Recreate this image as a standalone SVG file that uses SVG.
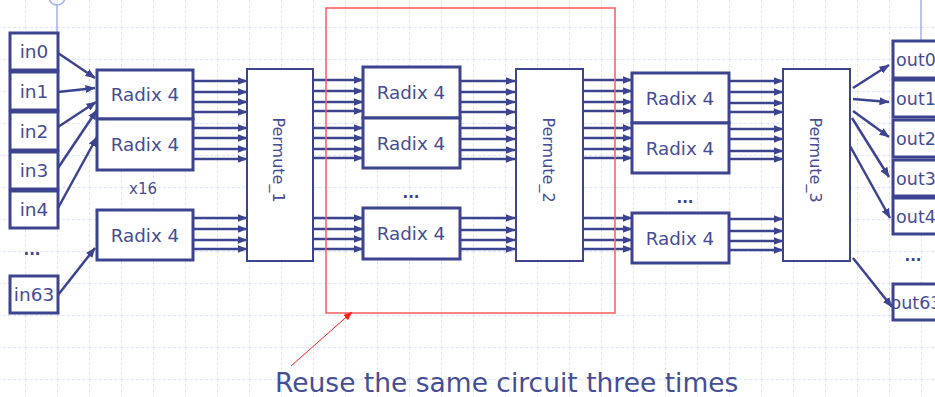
<svg xmlns="http://www.w3.org/2000/svg" width="935" height="397" viewBox="0 0 935 397">
<defs>
<marker id="ah" markerUnits="userSpaceOnUse" markerWidth="10" markerHeight="8" refX="9.5" refY="4" orient="auto">
<path d="M0,0 L10,4 L0,8 z" fill="#3c4490"/>
</marker>
<marker id="rah" markerUnits="userSpaceOnUse" markerWidth="9" markerHeight="7" refX="8.5" refY="3.5" orient="auto">
<path d="M0,0 L9,3.5 L0,7 z" fill="#ff2020"/>
</marker>
<pattern id="grid" patternUnits="userSpaceOnUse" x="25" y="27" width="32" height="32">
<path d="M0.5,0 V32 M0,0.5 H32" fill="none" stroke="#dde5fa" stroke-width="1" stroke-dasharray="3,2"/>
</pattern>
</defs>
<style>
.box{fill:#fff;stroke:#3c4490;stroke-width:3}
.perm{fill:#fff;stroke:#3c4490;stroke-width:2}
.t{font-family:"DejaVu Sans",Verdana,sans-serif;fill:#454d95;text-anchor:middle}
.lab{font-size:18.3px}
.io{font-size:18.5px}
.oo{font-size:17.5px}
.pt{font-size:16px}
.dots{font-family:"DejaVu Sans",sans-serif;font-size:15px;font-weight:bold;fill:#3c4490;text-anchor:middle}
.c{stroke:#3c4490;stroke-width:2.5;fill:none;marker-end:url(#ah)}
</style>
<rect width="935" height="397" fill="#fff"/>
<rect width="935" height="397" fill="url(#grid)"/>
<g id="guides" stroke="#9fb2f2" stroke-width="1.5" fill="none">
<circle cx="57" cy="-3" r="8"/>
<line x1="57" y1="5" x2="57" y2="33"/>
<line x1="921" y1="0" x2="921" y2="80"/>
</g>
<g id="inputs">
<g id="in0"><rect class="box" x="10" y="33" width="48" height="37"/><text class="t io" x="34" y="58">in0</text></g>
<g id="in1"><rect class="box" x="10" y="72" width="48" height="38"/><text class="t io" x="34" y="98">in1</text></g>
<g id="in2"><rect class="box" x="10" y="112" width="48" height="38"/><text class="t io" x="34" y="138">in2</text></g>
<g id="in3"><rect class="box" x="10" y="152" width="48" height="37"/><text class="t io" x="34" y="177">in3</text></g>
<g id="in4"><rect class="box" x="10" y="191" width="48" height="37"/><text class="t io" x="34" y="216">in4</text></g>
<text class="dots" x="32" y="255">...</text>
<g id="in63"><rect class="box" x="10" y="276" width="48" height="37"/><text class="t io" x="34" y="301">in63</text></g>
</g>
<g id="radix_col1">
<g id="r1a"><rect class="box" x="97" y="70" width="96" height="49"/><text class="t lab" x="145" y="101">Radix 4</text></g>
<g id="r1b"><rect class="box" x="97" y="119" width="96" height="51"/><text class="t lab" x="145" y="151">Radix 4</text></g>
<text class="t" x="143" y="194" font-size="15">x16</text>
<g id="r1c"><rect class="box" x="97" y="210" width="96" height="50"/><text class="t lab" x="145" y="242">Radix 4</text></g>
</g>
<g id="permute_1"><rect class="perm" x="247" y="69" width="66" height="192"/><text class="t pt" transform="translate(278,160) rotate(90)" dominant-baseline="central">Permute_1</text></g>
<g id="radix_col2">
<g id="r2a"><rect class="box" x="363" y="67" width="97" height="51"/><text class="t lab" x="411" y="99">Radix 4</text></g>
<g id="r2b"><rect class="box" x="363" y="118" width="97" height="50"/><text class="t lab" x="411" y="150">Radix 4</text></g>
<text class="dots" x="411" y="198">...</text>
<g id="r2c"><rect class="box" x="363" y="208" width="97" height="51"/><text class="t lab" x="411" y="240">Radix 4</text></g>
</g>
<g id="permute_2"><rect class="perm" x="516" y="69" width="67" height="192"/><text class="t pt" transform="translate(548,160) rotate(90)" dominant-baseline="central">Permute_2</text></g>
<g id="radix_col3">
<g id="r3a"><rect class="box" x="632" y="73" width="97" height="50"/><text class="t lab" x="680" y="105">Radix 4</text></g>
<g id="r3b"><rect class="box" x="632" y="123" width="97" height="50"/><text class="t lab" x="680" y="155">Radix 4</text></g>
<text class="dots" x="685" y="203">...</text>
<g id="r3c"><rect class="box" x="632" y="213" width="97" height="50"/><text class="t lab" x="680" y="245">Radix 4</text></g>
</g>
<g id="permute_3"><rect class="perm" x="783" y="69" width="67" height="192"/><text class="t pt" transform="translate(815,160) rotate(90)" dominant-baseline="central">Permute_3</text></g>
<g id="outputs">
<g id="out0"><rect class="box" x="893" y="41" width="50" height="37"/><text class="t oo" x="916" y="66">out0</text></g>
<g id="out1"><rect class="box" x="893" y="80" width="50" height="37"/><text class="t oo" x="916" y="105">out1</text></g>
<g id="out2"><rect class="box" x="893" y="120" width="50" height="37"/><text class="t oo" x="916" y="145">out2</text></g>
<g id="out3"><rect class="box" x="893" y="160" width="50" height="36"/><text class="t oo" x="916" y="185">out3</text></g>
<g id="out4"><rect class="box" x="893" y="198" width="50" height="36"/><text class="t oo" x="916" y="223">out4</text></g>
<text class="dots" x="913" y="261">...</text>
<g id="out63"><rect class="box" x="893" y="284" width="50" height="36"/><text class="t oo" x="916" y="309">out63</text></g>
</g>
<g id="connectors">
<line class="c" x1="58" y1="53" x2="95" y2="78"/>
<line class="c" x1="58" y1="92" x2="95" y2="88"/>
<line class="c" x1="58" y1="127" x2="96" y2="102"/>
<line class="c" x1="58" y1="168" x2="97" y2="110"/>
<line class="c" x1="58" y1="208" x2="97" y2="137"/>
<line class="c" x1="58" y1="295" x2="95" y2="248"/>
<g id="c1">
<line class="c" x1="193" y1="81" x2="247" y2="81"/><line class="c" x1="193" y1="92" x2="247" y2="92"/><line class="c" x1="193" y1="102" x2="247" y2="102"/><line class="c" x1="193" y1="112" x2="247" y2="112"/>
<line class="c" x1="193" y1="128" x2="247" y2="128"/><line class="c" x1="193" y1="138" x2="247" y2="138"/><line class="c" x1="193" y1="149" x2="247" y2="149"/><line class="c" x1="193" y1="159" x2="247" y2="159"/>
<line class="c" x1="193" y1="218" x2="247" y2="218"/><line class="c" x1="193" y1="229" x2="247" y2="229"/><line class="c" x1="193" y1="240" x2="247" y2="240"/><line class="c" x1="193" y1="249" x2="247" y2="249"/>
</g>
<g id="c2">
<line class="c" x1="313" y1="80" x2="363" y2="80"/><line class="c" x1="313" y1="91" x2="363" y2="91"/><line class="c" x1="313" y1="102" x2="363" y2="102"/><line class="c" x1="313" y1="111" x2="363" y2="111"/>
<line class="c" x1="313" y1="128" x2="363" y2="128"/><line class="c" x1="313" y1="138" x2="363" y2="138"/><line class="c" x1="313" y1="149" x2="363" y2="149"/><line class="c" x1="313" y1="158" x2="363" y2="158"/>
<line class="c" x1="313" y1="218" x2="363" y2="218"/><line class="c" x1="313" y1="229" x2="363" y2="229"/><line class="c" x1="313" y1="239" x2="363" y2="239"/><line class="c" x1="313" y1="249" x2="363" y2="249"/>
</g>
<g id="c3">
<line class="c" x1="460" y1="81" x2="515" y2="81"/><line class="c" x1="460" y1="92" x2="515" y2="92"/><line class="c" x1="460" y1="102" x2="515" y2="102"/><line class="c" x1="460" y1="112" x2="515" y2="112"/>
<line class="c" x1="460" y1="128" x2="515" y2="128"/><line class="c" x1="460" y1="139" x2="515" y2="139"/><line class="c" x1="460" y1="150" x2="515" y2="150"/><line class="c" x1="460" y1="159" x2="515" y2="159"/>
<line class="c" x1="460" y1="218" x2="515" y2="218"/><line class="c" x1="460" y1="230" x2="515" y2="230"/><line class="c" x1="460" y1="240" x2="515" y2="240"/><line class="c" x1="460" y1="249" x2="515" y2="249"/>
</g>
<g id="c4">
<line class="c" x1="583" y1="80" x2="632" y2="80"/><line class="c" x1="583" y1="91" x2="632" y2="91"/><line class="c" x1="583" y1="102" x2="632" y2="102"/><line class="c" x1="583" y1="111" x2="632" y2="111"/>
<line class="c" x1="583" y1="128" x2="632" y2="128"/><line class="c" x1="583" y1="138" x2="632" y2="138"/><line class="c" x1="583" y1="149" x2="632" y2="149"/><line class="c" x1="583" y1="158" x2="632" y2="158"/>
<line class="c" x1="583" y1="218" x2="632" y2="218"/><line class="c" x1="583" y1="229" x2="632" y2="229"/><line class="c" x1="583" y1="240" x2="632" y2="240"/><line class="c" x1="583" y1="249" x2="632" y2="249"/>
</g>
<g id="c5">
<line class="c" x1="729" y1="81" x2="783" y2="81"/><line class="c" x1="729" y1="92" x2="783" y2="92"/><line class="c" x1="729" y1="103" x2="783" y2="103"/><line class="c" x1="729" y1="112" x2="783" y2="112"/>
<line class="c" x1="729" y1="129" x2="783" y2="129"/><line class="c" x1="729" y1="139" x2="783" y2="139"/><line class="c" x1="729" y1="151" x2="783" y2="151"/><line class="c" x1="729" y1="159" x2="783" y2="159"/>
<line class="c" x1="729" y1="219" x2="783" y2="219"/><line class="c" x1="729" y1="231" x2="783" y2="231"/><line class="c" x1="729" y1="241" x2="783" y2="241"/><line class="c" x1="729" y1="250" x2="783" y2="250"/>
</g>
<line class="c" x1="853" y1="88" x2="889" y2="65"/>
<line class="c" x1="853" y1="99" x2="889" y2="102"/>
<line class="c" x1="853" y1="111" x2="889" y2="137"/>
<line class="c" x1="852" y1="118" x2="889" y2="177"/>
<line class="c" x1="850" y1="146" x2="890" y2="218"/>
<line class="c" x1="853" y1="258" x2="892" y2="307"/>
</g>
<g id="reuse">
<rect x="326" y="8" width="289" height="305" fill="none" stroke="#ff5a5a" stroke-width="1.5"/>
<line x1="291" y1="366" x2="352" y2="312" stroke="#ff2020" stroke-width="1" marker-end="url(#rah)"/>
<text x="275" y="392" font-family="DejaVu Sans,Verdana,sans-serif" font-size="26.5" fill="#454d95">Reuse the same circuit three times</text>
</g>
</svg>
